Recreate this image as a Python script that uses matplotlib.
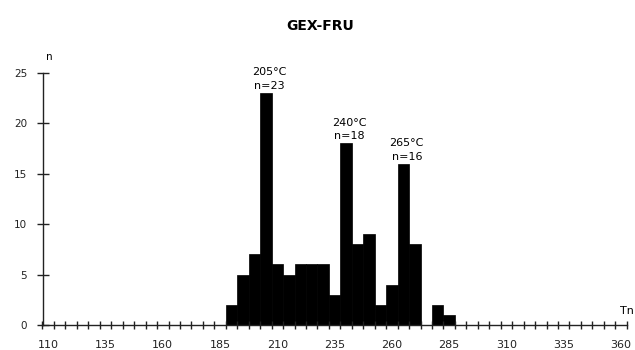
import matplotlib
matplotlib.use("Agg")
import matplotlib.pyplot as plt
import numpy as np

plt.rcParams['font.family'] = ['DejaVu Sans']

# Data
bin_centers = [190, 195, 200, 205, 210, 215, 220, 225, 230, 235,
               240, 245, 250, 255, 260, 265, 270, 275, 280, 285]
counts = [2, 5, 7, 23, 6, 5, 6, 6, 6, 3,
          18, 8, 9, 2, 4, 16, 8, 0, 2, 1]
x_labels = [110, 135, 160, 185, 210, 235, 260, 285, 310, 335, 360]
y_ticks = [0, 5, 10, 15, 20, 25]
peak_labels = [(205, 23, "205°C\nn=23"), (240, 18, "240°C\nn=18"), (265, 16, "265°C\nn=16")]
title = "GEX-FRU"

fig = plt.figure(figsize=(6.35, 3.5), dpi=100)
ax = fig.add_axes([42.5/635, 25/350, (626.7-42.5)/635, (325-72.7)/350])

ax.bar(bin_centers, counts, width=5, color='black', edgecolor='black', linewidth=0.5)

ax.set_xlim(107.5, 362.5)
ax.set_ylim(0, 25)

for s in ['top', 'right']:
    ax.spines[s].set_visible(False)
for s in ['left', 'bottom']:
    ax.spines[s].set_linewidth(1.0)
    ax.spines[s].set_color('#222222')

ax.set_yticks(y_ticks)
ax.set_yticklabels([str(v) for v in y_ticks], fontsize=7.5)
ax.tick_params(axis='y', direction='inout', length=8, width=1, pad=7, colors='#222222')

ax.set_xticks(x_labels)
ax.set_xticklabels([str(v) for v in x_labels], fontsize=8)
ax.tick_params(axis='x', which='major', length=0, pad=11, colors='#222222')
ax.set_xticks(np.arange(107.5, 362.6, 5), minor=True)
ax.tick_params(axis='x', which='minor', direction='inout', length=6, width=1, color='#222222')

for xc, yc, txt in peak_labels:
    ax.text(xc + 1.5, yc + 0.2, txt, ha='center', va='bottom', fontsize=8, linespacing=1.45)

fig.text(320/635, 1 - 26/350, title, ha='center', va='center', fontsize=10, fontweight='bold')
fig.text(49/635, 1 - 57/350, "n", ha='center', va='center', fontsize=7.5)
fig.text(620/635, 1 - 311/350, "Tn", ha='left', va='center', fontsize=8)

fig.savefig("out.png", dpi=100)
